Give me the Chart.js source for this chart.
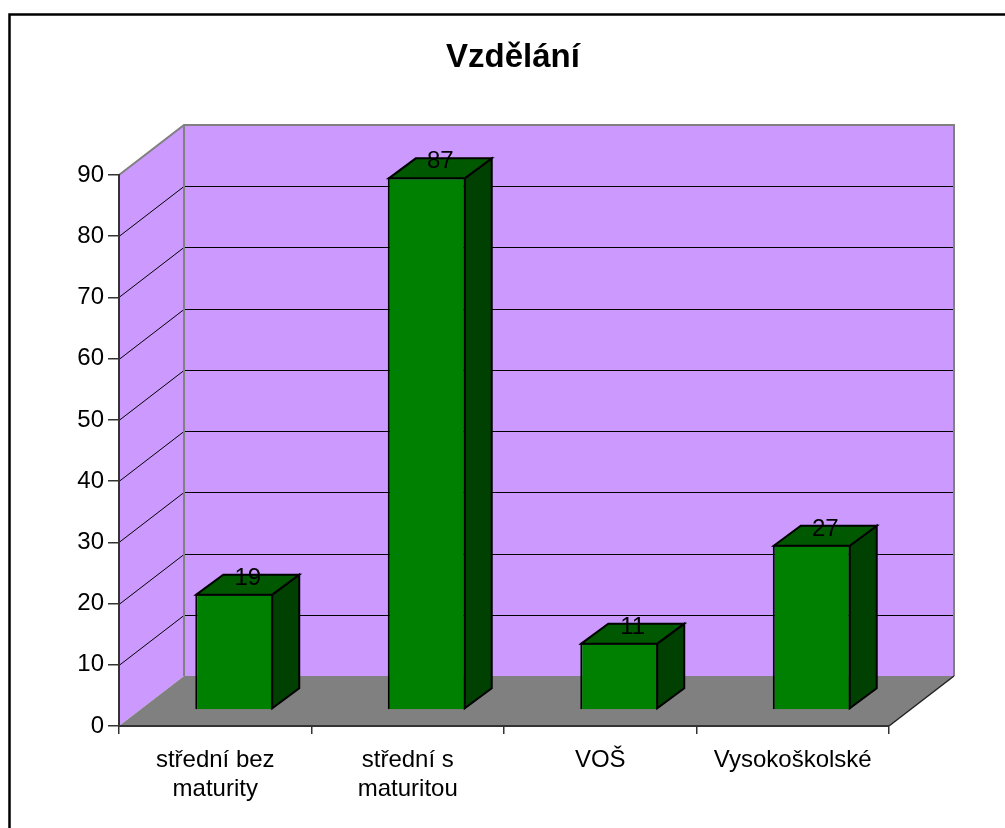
<!DOCTYPE html>
<html>
<head>
<meta charset="utf-8">
<script src="https://cdn.jsdelivr.net/npm/chart.js@4.4.1/dist/chart.umd.min.js"></script>
<style>
html,body{margin:0;padding:0;background:#fff}
#box{width:1005px;height:828px}
</style>
</head>
<body>
<div id="box"><canvas id="chart"></canvas></div>
<script>
const title = "Vzdělání"
const categories = [["střední bez","maturity"],["střední s","maturitou"],"VOŠ","Vysokoškolské"]
const values = [19,87,11,27]
const yTicks = [0,10,20,30,40,50,60,70,80,90]

const font = "'Liberation Sans', Arial, sans-serif"
const depth = {x:65, y:50}      // walls and floor
const barShift = {x:19, y:16}   // bars stand inside the depth
const barDepth = {x:27, y:20}

function poly(ctx, pts, fill, stroke){
    ctx.beginPath()
    pts.forEach((p,i)=> i ? ctx.lineTo(p[0],p[1]) : ctx.moveTo(p[0],p[1]))
    ctx.closePath()
    if(fill){ ctx.fillStyle=fill; ctx.fill() }
    if(stroke){ ctx.strokeStyle=stroke; ctx.stroke() }
}

function path(ctx, pts){
    ctx.beginPath()
    pts.forEach((p,i)=> i ? ctx.lineTo(p[0],p[1]) : ctx.moveTo(p[0],p[1]))
    ctx.stroke()
}

const walls = {
    id:'walls',
    beforeDraw(chart){
        const ctx = chart.ctx
        const ys = chart.scales.y
        const L = chart.chartArea.left, R = chart.chartArea.right
        const T = ys.getPixelForValue(90), B = ys.getPixelForValue(0)
        const dx = depth.x, dy = depth.y
        ctx.save()
        ctx.fillStyle='#fff'
        ctx.fillRect(0,0,chart.width,chart.height)
        ctx.strokeStyle='#000'
        ctx.lineWidth=2.5
        ctx.strokeRect(9.5,14.5,1200,1200)

        // back wall, left wall, floor
        poly(ctx, [[L+dx,T-dy],[R+dx,T-dy],[R+dx,B-dy],[L+dx,B-dy]], '#CC99FF')
        poly(ctx, [[L,T],[L+dx,T-dy],[L+dx,B-dy],[L,B]], '#CC99FF')
        poly(ctx, [[L,B],[L+dx,B-dy],[R+dx,B-dy],[R,B]], '#808080')

        ctx.strokeStyle='#000'
        ctx.lineWidth=1
        yTicks.forEach(v=>{
            if(v===0 || v===90) return
            const p = Math.round(ys.getPixelForValue(v))+0.5
            path(ctx, [[L,p],[L+dx,p-dy],[R+dx,p-dy]])
        })

        ctx.strokeStyle='#808080'
        ctx.lineWidth=2
        path(ctx, [[L,T],[L+dx,T-dy],[R+dx,T-dy],[R+dx,B-dy]])
        path(ctx, [[L+dx,T-dy],[L+dx,B-dy]])
        ctx.strokeStyle='#222'
        ctx.lineWidth=1.5
        path(ctx, [[R,B],[R+dx,B-dy]])
        ctx.restore()
    }
}

const bars3d = {
    id:'bars3d',
    beforeDatasetsDraw(chart){
        chart.ctx.save()
        chart.ctx.translate(barShift.x, -barShift.y)
    },
    afterDatasetsDraw(chart){
        const ctx = chart.ctx
        ctx.restore()
        const bx = barDepth.x, by = barDepth.y
        ctx.save()
        ctx.lineWidth=2
        ctx.lineJoin='miter'
        chart.getDatasetMeta(0).data.forEach((bar,i)=>{
            const p = bar.getProps(['x','y','base','width'], true)
            const l = p.x - p.width/2 + barShift.x + 1
            const r = p.x + p.width/2 + barShift.x - 1
            const t = p.y - barShift.y + 1
            const b = p.base - barShift.y - 1
            poly(ctx, [[r,t],[r+bx,t-by],[r+bx,b-by],[r,b]], '#004000', '#000')
            poly(ctx, [[l,t],[l+bx,t-by],[r+bx,t-by],[r,t]], '#005800', '#000')
            ctx.fillStyle='#000'
            ctx.font='24px '+font
            ctx.textAlign='center'
            ctx.textBaseline='alphabetic'
            ctx.fillText(values[i], (l+r)/2 + bx/2, t - by/2)
        })
        ctx.restore()
    }
}

const ctx = document.getElementById('chart').getContext('2d')
new Chart(ctx, {
    type:'bar',
    data:{
        labels:categories,
        datasets:[{
            data:values,
            backgroundColor:'#008000',
            borderColor:'#000',
            borderWidth:2,
            barPercentage:0.405,
            categoryPercentage:1
        }]
    },
    options:{
        responsive:true,
        maintainAspectRatio:false,
        animation:false,
        devicePixelRatio:1,
        layout:{padding:{top:0,left:21,right:0,bottom:0}},
        plugins:{
            legend:{display:false},
            tooltip:{enabled:false},
            title:{
                display:true,
                text:title,
                color:'#000',
                font:{family:font,size:33,weight:'bold',lineHeight:1.2},
                padding:{top:38.2,bottom:97.2}
            }
        },
        scales:{
            y:{
                min:0,
                max:90,
                afterFit(s){ s.width=98 },
                afterBuildTicks(s){ s.ticks=yTicks.map(v=>({value:v})) },
                ticks:{color:'#000',font:{family:font,size:24},padding:4},
                grid:{drawOnChartArea:false,tickLength:11,color:'#333',lineWidth:1.5},
                border:{color:'#333',width:2}
            },
            // empty right axis only keeps room for the depth of the walls
            y2:{
                position:'right',
                min:0,
                max:90,
                afterFit(s){ s.width=116 },
                ticks:{display:false},
                grid:{display:false},
                border:{display:false}
            },
            x:{
                afterFit(s){ s.height=102 },
                ticks:{color:'#000',font:{family:font,size:24,lineHeight:1.2},padding:12,maxRotation:0,autoSkip:false},
                grid:{drawOnChartArea:false,tickLength:8,color:'#333',lineWidth:1.5,offset:true},
                border:{color:'#333',width:2}
            }
        }
    },
    plugins:[walls,bars3d]
})
</script>
</body>
</html>
